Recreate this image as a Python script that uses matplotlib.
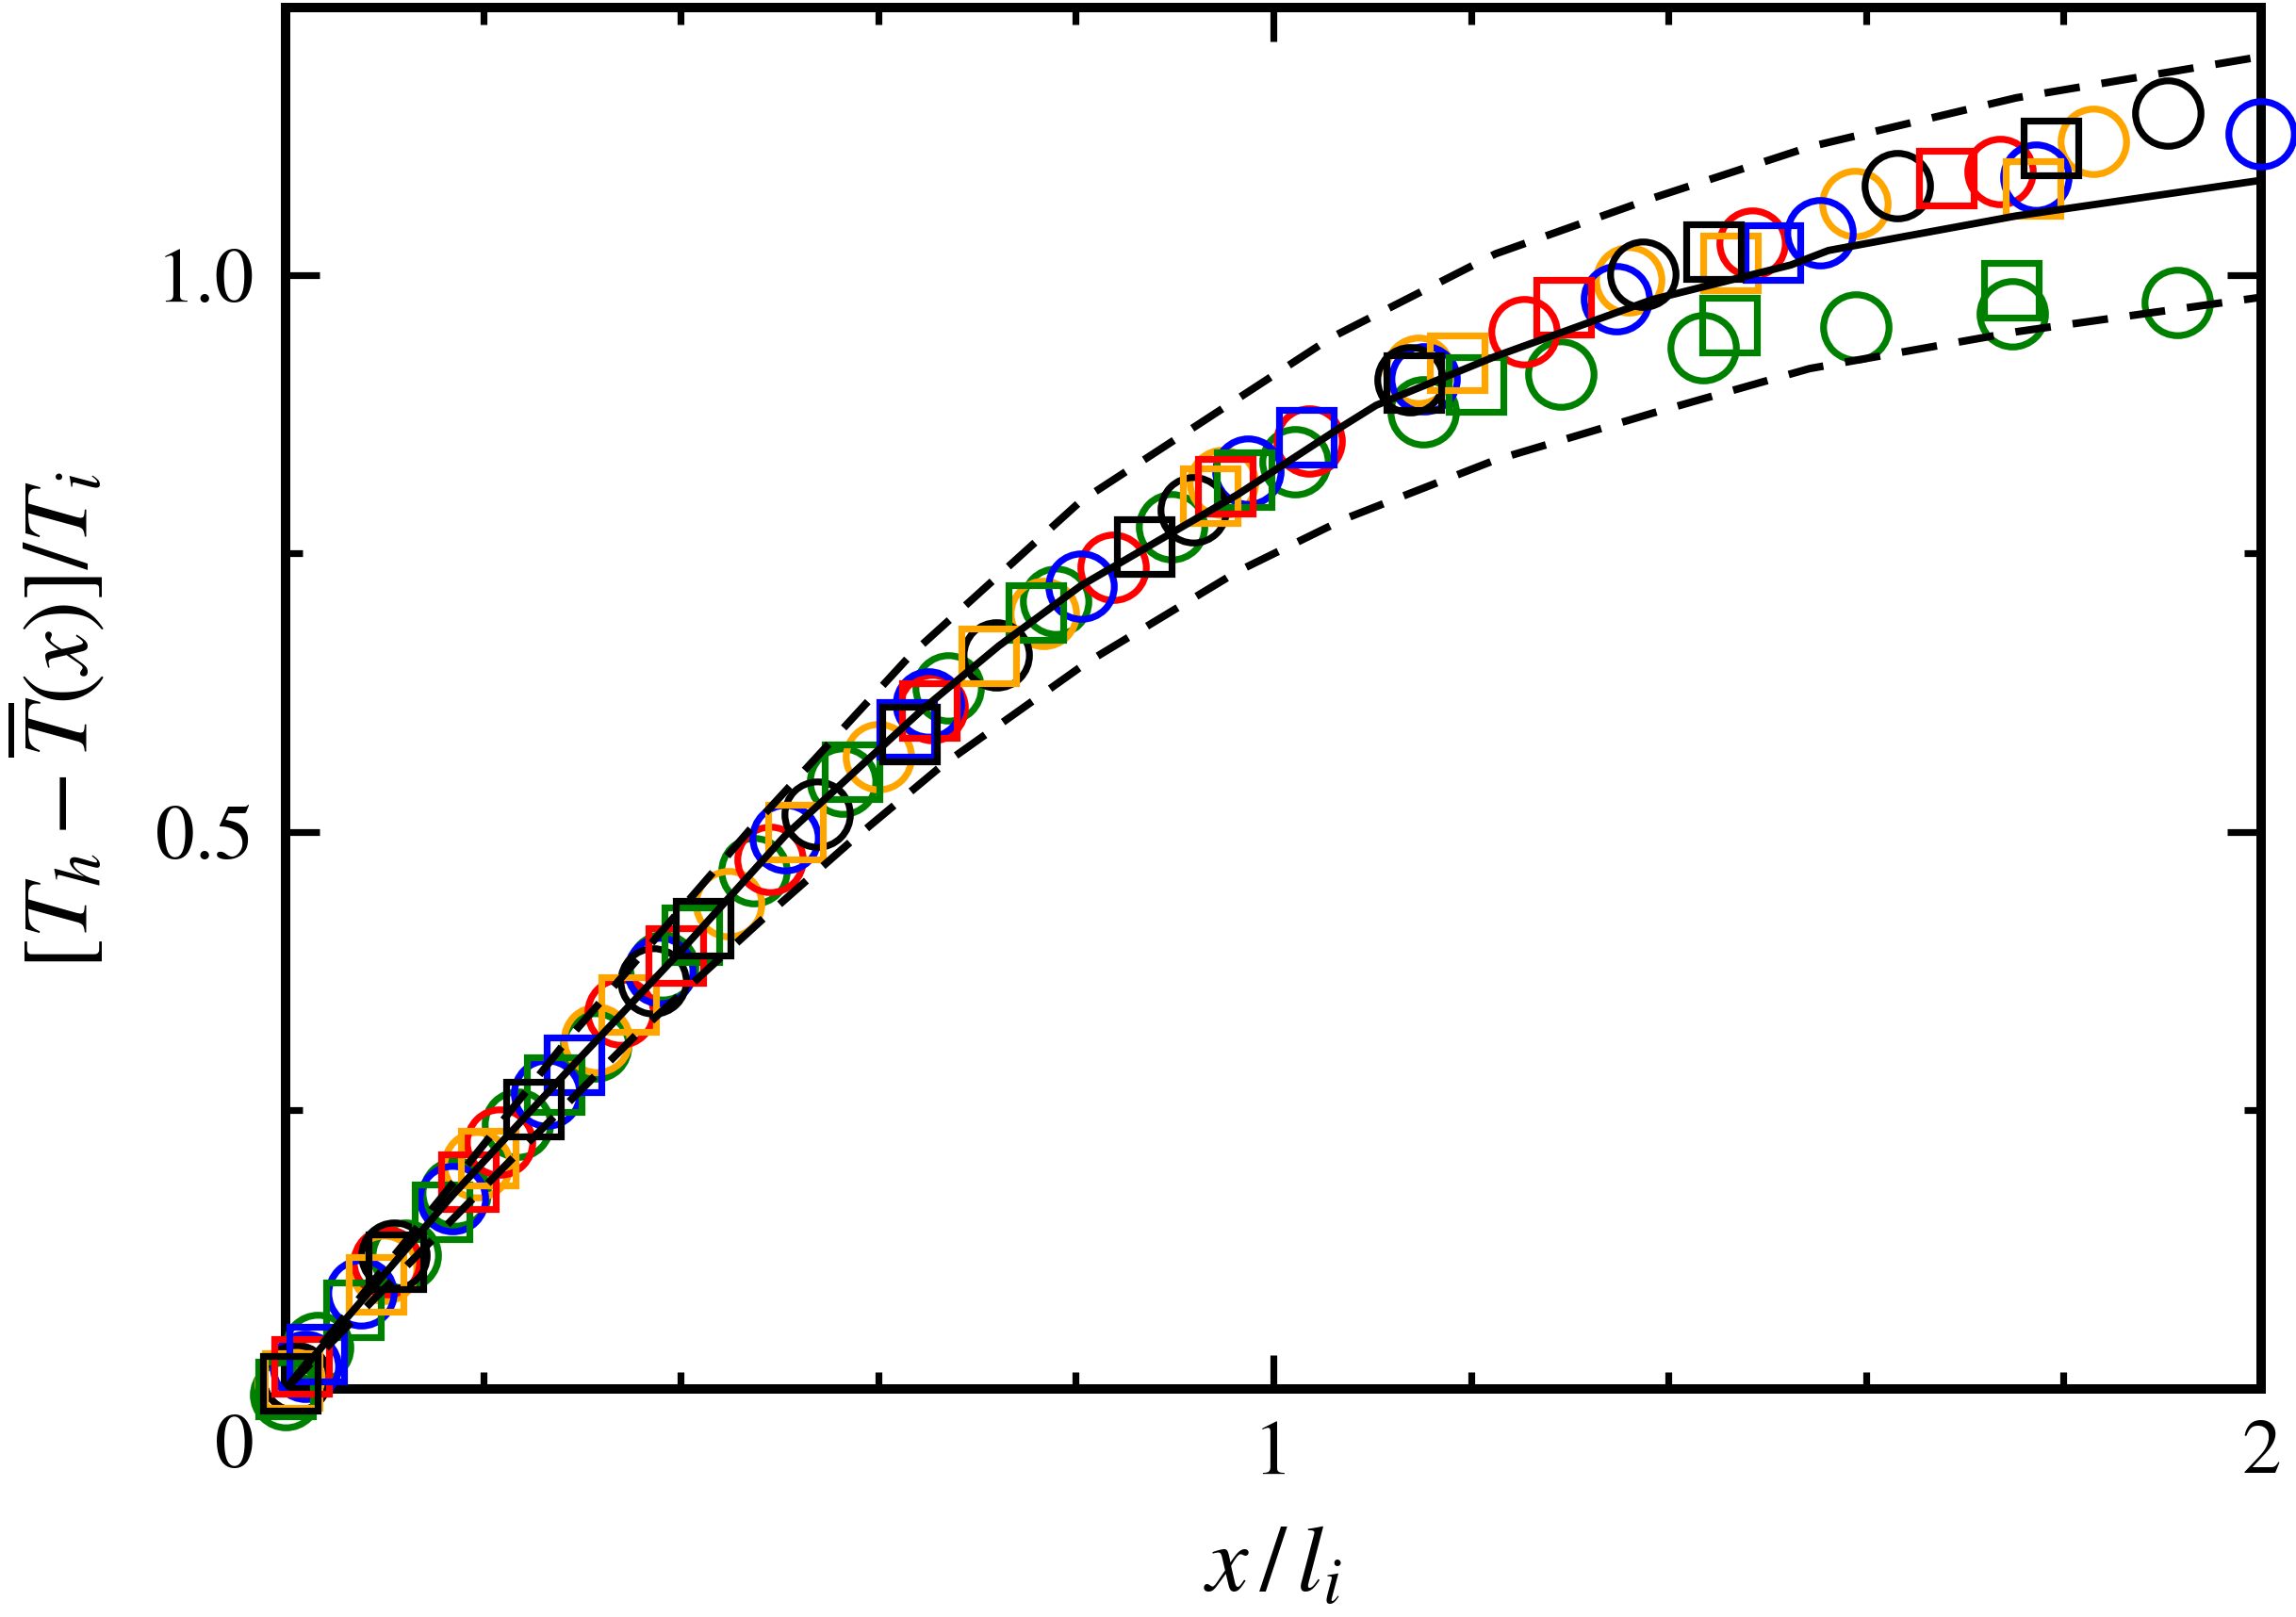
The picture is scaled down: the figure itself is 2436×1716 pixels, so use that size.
import matplotlib
matplotlib.use("Agg")
import matplotlib.pyplot as plt
from matplotlib.ticker import MultipleLocator

plt.rcParams['font.family'] = ['STIXGeneral', 'DejaVu Serif']
plt.rcParams['mathtext.fontset'] = 'stix'

# curves
solid_x = [0.0, 0.17, 0.283, 0.40, 0.506, 0.646, 0.722, 0.805, 0.964, 1.066, 1.104, 1.225, 1.384, 1.524, 1.562, 1.752, 2.0]
solid_y = [0.0, 0.175, 0.283, 0.393, 0.497, 0.611, 0.667, 0.721, 0.803, 0.862, 0.883, 0.927, 0.978, 1.009, 1.022, 1.053, 1.085]

upper_x = [0.0, 0.156, 0.283, 0.471, 0.633, 0.805, 0.964, 1.059, 1.225, 1.384, 1.543, 1.752, 2.0]
upper_y = [0.0, 0.170, 0.311, 0.503, 0.659, 0.797, 0.889, 0.944, 1.019, 1.069, 1.115, 1.159, 1.196]

lower_x = [0.0, 0.233, 0.355, 0.482, 0.573, 0.665, 0.811, 0.964, 1.072, 1.225, 1.384, 1.543, 1.752, 2.0]
lower_y = [0.0, 0.210, 0.318, 0.421, 0.492, 0.560, 0.652, 0.734, 0.781, 0.834, 0.876, 0.916, 0.949, 0.980]

# measured points: circles
black_circ_x = [0.01, 0.11, 0.372, 0.538, 0.719, 0.919, 1.138, 1.374, 1.632, 1.906]
black_circ_y = [0.01, 0.12, 0.366, 0.516, 0.659, 0.789, 0.906, 1.001, 1.080, 1.145]

blue_circ_x = [0.02, 0.076, 0.169, 0.264, 0.379, 0.506, 0.651, 0.805, 0.974, 1.153, 1.347, 1.553, 1.772, 2.0]
blue_circ_y = [0.02, 0.086, 0.171, 0.266, 0.376, 0.495, 0.615, 0.721, 0.824, 0.907, 0.979, 1.038, 1.088, 1.127]

red_circ_x = [0.01, 0.102, 0.217, 0.339, 0.490, 0.655, 0.838, 1.036, 1.254, 1.485, 1.736]
red_circ_y = [0.01, 0.114, 0.222, 0.338, 0.475, 0.612, 0.738, 0.851, 0.949, 1.029, 1.093]

orange_circ_x = [0.005, 0.099, 0.194, 0.315, 0.448, 0.600, 0.767, 0.948, 1.147, 1.360, 1.589, 1.830]
orange_circ_y = [0.005, 0.108, 0.201, 0.314, 0.436, 0.568, 0.696, 0.814, 0.914, 0.996, 1.064, 1.120]

green_circ_x = [0.0, 0.032, 0.121, 0.172, 0.235, 0.314, 0.382, 0.474, 0.564, 0.671, 0.780, 0.897,
                1.022, 1.152, 1.291, 1.435, 1.590, 1.748, 1.915]
green_circ_y = [-0.005, 0.037, 0.120, 0.176, 0.238, 0.308, 0.379, 0.465, 0.546, 0.629, 0.707, 0.774,
                0.832, 0.877, 0.911, 0.935, 0.953, 0.965, 0.975]

# measured points: squares
black_sq_x = [0.005, 0.112, 0.251, 0.423, 0.632, 0.869, 1.142, 1.446, 1.787]
black_sq_y = [0.005, 0.114, 0.251, 0.414, 0.588, 0.756, 0.903, 1.021, 1.114]

blue_sq_x = [0.031, 0.292, 0.629, 1.033, 1.506]
blue_sq_y = [0.031, 0.291, 0.592, 0.854, 1.020]

red_sq_x = [0.016, 0.185, 0.395, 0.652, 0.951, 1.294, 1.681]
red_sq_y = [0.020, 0.186, 0.389, 0.609, 0.810, 0.971, 1.087]

orange_sq_x = [0.007, 0.092, 0.205, 0.347, 0.516, 0.712, 0.936, 1.186, 1.463, 1.769]
orange_sq_y = [0.008, 0.094, 0.207, 0.345, 0.500, 0.658, 0.802, 0.921, 1.011, 1.078]

green_sq_x = [0.0, 0.069, 0.158, 0.272, 0.411, 0.573, 0.760, 0.970, 1.205, 1.462, 1.747]
green_sq_y = [0.0, 0.071, 0.159, 0.273, 0.408, 0.554, 0.697, 0.816, 0.902, 0.955, 0.986]

circles = [
    (green_circ_x, green_circ_y, 'green'),
    (orange_circ_x, orange_circ_y, 'orange'),
    (red_circ_x, red_circ_y, 'red'),
    (blue_circ_x, blue_circ_y, 'blue'),
    (black_circ_x, black_circ_y, 'black'),
]
squares = [
    (green_sq_x, green_sq_y, 'green'),
    (orange_sq_x, orange_sq_y, 'orange'),
    (red_sq_x, red_sq_y, 'red'),
    (blue_sq_x, blue_sq_y, 'blue'),
    (black_sq_x, black_sq_y, 'black'),
]

fig = plt.figure(figsize=(12.18, 8.58), dpi=200)
ax = fig.add_axes([0.1244, 0.141, 0.8604, 0.8543])

for xs, ys, c in circles:
    ax.plot(xs, ys, 'o', ms=25, mfc='none', mec=c, mew=2.6, clip_on=False, zorder=3)
for xs, ys, c in squares:
    ax.plot(xs, ys, 's', ms=21, mfc='none', mec=c, mew=2.6, clip_on=False, zorder=3)

ax.plot(solid_x, solid_y, '-', color='black', lw=2.8, zorder=4)
ax.plot(upper_x, upper_y, '--', color='black', lw=2.9, dashes=(4.7, 2.9), zorder=4)
ax.plot(lower_x, lower_y, '--', color='black', lw=2.9, dashes=(4.7, 2.9), zorder=4)

ax.set_xlim(0, 2)
ax.set_ylim(0, 1.24)
ax.set_xticks([0, 1, 2])
ax.set_xticklabels(['', '1', '2'])
ax.set_yticks([0, 0.5, 1.0])
ax.set_yticklabels(['', '0.5', '1.0'])
ax.xaxis.set_minor_locator(MultipleLocator(0.2))
ax.yaxis.set_minor_locator(MultipleLocator(0.25))
ax.tick_params(which='both', direction='in', top=True, right=True, width=2.6, labelsize=30, pad=12)
ax.tick_params(which='major', length=13)
ax.tick_params(which='minor', length=6.5)
for sp in ax.spines.values():
    sp.set_linewidth(3.6)

# shared zero at the corner
ax.annotate('0', xy=(0, 0), xycoords='data', xytext=(-19.5, -23), textcoords='offset points',
            ha='center', va='center', fontsize=30)

ax.set_xlabel(r'$x\,/\,l_i$', fontsize=36, labelpad=14)
ax.set_ylabel(r'$[T_h - \overline{T}(x)]/T_i$', fontsize=36)
ax.yaxis.set_label_coords(-0.089, 0.484)

fig.savefig('out.png', dpi=200)
